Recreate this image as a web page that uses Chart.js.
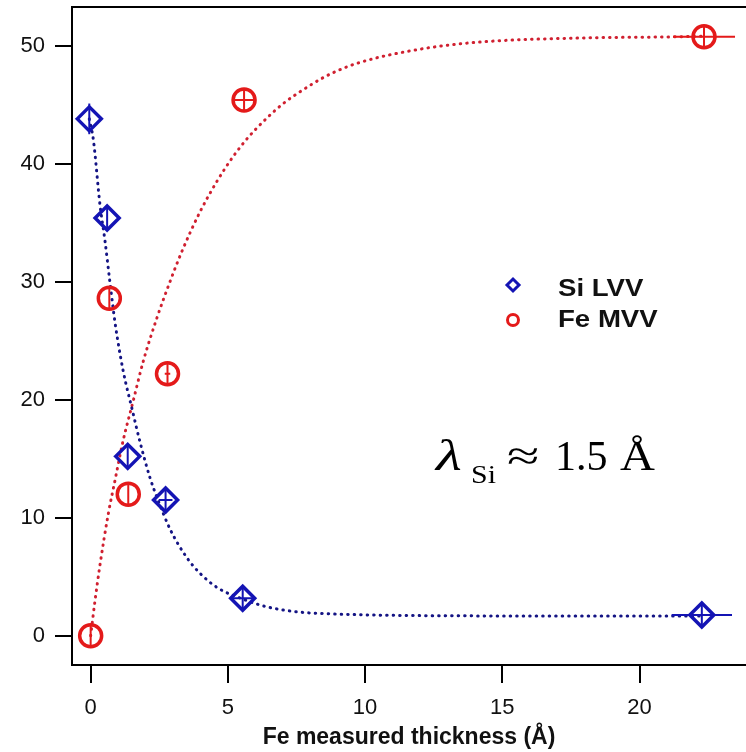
<!DOCTYPE html>
<html><head><meta charset="utf-8">
<script src="https://cdn.jsdelivr.net/npm/chart.js@4.4.1/dist/chart.umd.min.js"></script>
<style>html,body{margin:0;padding:0;background:#fff}#wrap{width:746px;height:752px;position:relative}</style>
</head><body><div id="wrap"><canvas id="c" width="746" height="752"></canvas></div>
<script>
// ---- data ----
const siLabel = 'Si LVV';
const feLabel = 'Fe MVV';
const siX = [-0.05, 0.6, 1.35, 2.73, 5.54, 22.27];
const siY = [43.8, 35.4, 15.2, 11.5, 3.17, 1.75];
const siXErr = [0, 0, 0, 0.25, 0.4, 1.1];
const siYErr = [1.3, 0.9, 0.9, 0.9, 0.9, 0.9];
const feX = [0, 0.68, 1.37, 2.8, 5.59, 22.35];
const feY = [0, 28.6, 12.0, 22.2, 45.4, 50.76];
const feXErr = [0, 0, 0, 0.1, 0.4, 1.13];
const feYErr = [0.9, 0.9, 0.9, 0.9, 0.9, 0.9];
// fitted curves
const siFitX = [-0.05, 0.1, 0.34, 0.52, 0.70, 0.89, 1.18, 1.51, 1.80, 2.16, 2.42, 2.90, 3.51, 3.98, 4.60, 5.55, 6.42, 7.63, 8.83, 11.3, 16.0, 22.3];
const siFitY = [43.8, 42.0, 36.5, 33.5, 30.0, 26.5, 22.5, 19.2, 16.4, 13.4, 11.7, 9.0, 6.6, 5.3, 4.1, 3.1, 2.45, 2.0, 1.85, 1.72, 1.68, 1.68];
const feFitX = [0, 0.16, 0.34, 0.64, 0.89, 1.18, 1.54, 1.91, 2.41, 2.89, 3.33, 3.98, 4.60, 5.19, 5.73, 6.39, 7.02, 7.63, 8.48, 9.33, 10.3, 11.5, 12.7, 14.4, 17.8, 21.2, 22.3];
const feFitY = [0, 3.0, 6.0, 10.3, 13.2, 16.5, 19.8, 23.2, 26.9, 30.0, 32.6, 35.9, 38.5, 40.6, 42.2, 43.8, 45.1, 46.1, 47.3, 48.2, 48.9, 49.5, 49.95, 50.35, 50.65, 50.75, 50.8];
const xTicks = [0, 5, 10, 15, 20];
const yTicks = [0, 10, 20, 30, 40, 50];
const xTitle = 'Fe measured thickness (Å)';
const note = {lambda: 'λ', sub: 'Si', approx: '≈', value: '1.5', unit: 'Å'};

const blue = '#1414b4', blueLine = '#141484';
const red = '#e41a1a', redLine = '#d02030';
const zip = (xs, ys) => xs.map((x, i) => ({x, y: ys[i]}));

const errPlugin = {
  id: 'err',
  afterDatasetsDraw(chart) {
    const ctx = chart.ctx, xs = chart.scales.x, ys = chart.scales.y;
    const sets = [[siX, siY, siXErr, siYErr, blue], [feX, feY, feXErr, feYErr, red]];
    ctx.save();
    ctx.lineWidth = 2;
    sets.forEach(([X, Y, XE, YE, col]) => {
      ctx.strokeStyle = col;
      X.forEach((x, i) => {
        const px = xs.getPixelForValue(x), py = ys.getPixelForValue(Y[i]);
        ctx.beginPath();
        if (YE[i]) { ctx.moveTo(px, ys.getPixelForValue(Y[i] + YE[i])); ctx.lineTo(px, ys.getPixelForValue(Y[i] - YE[i])); }
        if (XE[i]) { ctx.moveTo(xs.getPixelForValue(x - XE[i]), py); ctx.lineTo(xs.getPixelForValue(x + XE[i]), py); }
        ctx.stroke();
      });
    });
    ctx.restore();
  }
};

const framePlugin = {
  id: 'frame',
  afterDraw(chart) {
    const ctx = chart.ctx, a = chart.chartArea;
    ctx.save();
    ctx.strokeStyle = '#000'; ctx.lineWidth = 2;
    ctx.beginPath(); ctx.moveTo(a.left - 1, a.top); ctx.lineTo(a.right, a.top); ctx.stroke();
    // legend
    const lx = 513;
    ctx.lineWidth = 3;
    ctx.strokeStyle = blue;
    ctx.beginPath(); ctx.moveTo(lx - 6, 285); ctx.lineTo(lx, 279); ctx.lineTo(lx + 6, 285); ctx.lineTo(lx, 291); ctx.closePath(); ctx.stroke();
    ctx.strokeStyle = red;
    ctx.beginPath(); ctx.arc(lx, 320, 5.5, 0, Math.PI * 2); ctx.stroke();
    ctx.fillStyle = '#111';
    ctx.font = 'bold 24px "Liberation Sans", Arial, sans-serif';
    ctx.textBaseline = 'alphabetic';
    [[siLabel, 296], [feLabel, 327]].forEach(([t, y]) => {
      ctx.save(); ctx.translate(558, y); ctx.scale(1.15, 1); ctx.fillText(t, 0, 0); ctx.restore();
    });
    // annotation
    ctx.fillStyle = '#000';
    ctx.font = 'italic 44px "Liberation Serif", "DejaVu Serif", serif';
    ctx.save(); ctx.translate(436, 470); ctx.scale(1.35, 1); ctx.fillText(note.lambda, 0, 0); ctx.restore();
    ctx.font = '26px "Liberation Serif", serif';
    ctx.save(); ctx.translate(471, 483); ctx.scale(1.15, 1); ctx.fillText(note.sub, 0, 0); ctx.restore();
    ctx.font = '42px "Liberation Serif", serif';
    ctx.save(); ctx.translate(507, 470); ctx.scale(1.4, 1); ctx.fillText(note.approx, 0, 0); ctx.restore();
    ctx.fillText(note.value, 555, 470);
    ctx.save(); ctx.translate(620, 470); ctx.scale(1.15, 1); ctx.fillText(note.unit, 0, 0); ctx.restore();
    ctx.restore();
  }
};

const tickFont = {family: '"Liberation Sans", Arial, sans-serif', size: 22};
new Chart(document.getElementById('c'), {
  type: 'scatter',
  data: {
    datasets: [
      {label: siLabel, data: zip(siX, siY), pointStyle: 'rectRot', pointRadius: 12, pointBorderWidth: 3.5, borderColor: blue, backgroundColor: 'rgba(0,0,0,0)', showLine: false},
      {label: feLabel, data: zip(feX, feY), pointStyle: 'circle', pointRadius: 11, pointBorderWidth: 3.5, borderColor: red, backgroundColor: 'rgba(0,0,0,0)', showLine: false},
      {label: 'Si fit', data: zip(siFitX, siFitY), showLine: true, pointRadius: 0, borderColor: blueLine, borderWidth: 3, borderDash: [0.5, 6], borderCapStyle: 'round', cubicInterpolationMode: 'monotone'},
      {label: 'Fe fit', data: zip(feFitX, feFitY), showLine: true, pointRadius: 0, borderColor: redLine, borderWidth: 3, borderDash: [0.5, 6], borderCapStyle: 'round', cubicInterpolationMode: 'monotone'}
    ]
  },
  options: {
    responsive: false, animation: false, devicePixelRatio: 1,
    layout: {autoPadding: false, padding: {top: 7, right: 0, left: 0, bottom: 0}},
    plugins: {legend: {display: false}, tooltip: {enabled: false}},
    scales: {
      x: {type: 'linear', min: -0.68, max: 23.88,
        afterBuildTicks: s => { s.ticks = xTicks.map(v => ({value: v})); },
        afterFit: s => { s.height = 87; s.paddingLeft = 0; s.paddingRight = 0; },
        grid: {drawOnChartArea: false, drawTicks: true, tickLength: 18, color: '#000', lineWidth: 2},
        border: {display: true, color: '#000', width: 2},
        ticks: {color: '#111', font: tickFont, padding: 12, maxRotation: 0},
        title: {display: true, text: xTitle, color: '#111', font: {family: '"Liberation Sans", Arial, sans-serif', size: 23, weight: 'bold'}, padding: {top: 0, bottom: 1}}
      },
      y: {type: 'linear', min: -2.48, max: 53.28,
        afterBuildTicks: s => { s.ticks = yTicks.map(v => ({value: v})); },
        afterFit: s => { s.width = 72; s.paddingTop = 0; s.paddingBottom = 0; },
        grid: {drawOnChartArea: false, drawTicks: true, tickLength: 17, color: '#000', lineWidth: 2},
        border: {display: true, color: '#000', width: 2},
        ticks: {color: '#111', font: tickFont, padding: 10}
      }
    }
  },
  plugins: [errPlugin, framePlugin]
});
</script></body></html>
